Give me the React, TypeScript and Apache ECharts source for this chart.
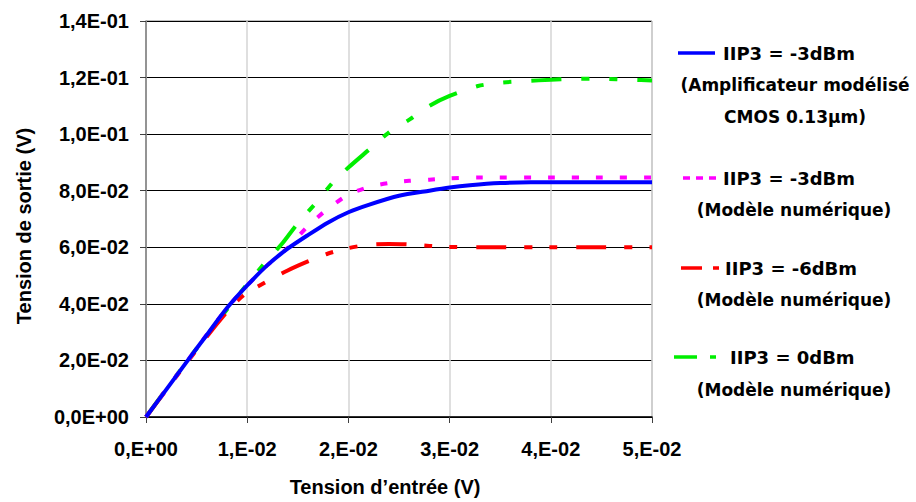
import React, { useEffect, useRef } from "react";
import * as echarts from "echarts";

const blueData: [number, number][] = [
  [0, 0], [0.002, 0.0097], [0.004, 0.0194], [0.006, 0.029], [0.008, 0.0385], [0.01, 0.0465],
  [0.012, 0.0537], [0.014, 0.0595], [0.016, 0.0643], [0.018, 0.0688], [0.02, 0.0724],
  [0.022, 0.075], [0.025, 0.0782], [0.028, 0.08], [0.03, 0.0811], [0.032, 0.0819],
  [0.035, 0.0827], [0.038, 0.083], [0.04, 0.083], [0.045, 0.083], [0.05, 0.083],
];

const magentaData: [number, number][] = [
  [0, 0], [0.004, 0.0194], [0.008, 0.0385], [0.01, 0.0465], [0.012, 0.0537], [0.014, 0.0598],
  [0.016, 0.0675], [0.018, 0.0737], [0.02, 0.0786], [0.022, 0.0813], [0.024, 0.0827],
  [0.026, 0.0835], [0.028, 0.0839], [0.03, 0.0844], [0.033, 0.0847], [0.04, 0.0847],
  [0.045, 0.0847], [0.05, 0.0847],
];

const redData: [number, number][] = [
  [0, 0], [0.002, 0.0096], [0.004, 0.019], [0.006, 0.0284], [0.008, 0.0372], [0.009, 0.041],
  [0.01, 0.044], [0.012, 0.048], [0.014, 0.0518], [0.016, 0.055], [0.018, 0.0578],
  [0.02, 0.0597], [0.022, 0.0609], [0.024, 0.0612], [0.026, 0.061], [0.028, 0.0605],
  [0.03, 0.0601], [0.035, 0.06], [0.04, 0.06], [0.045, 0.06], [0.05, 0.06],
];

const greenData: [number, number][] = [
  [0, 0], [0.004, 0.0195], [0.008, 0.038], [0.01, 0.047], [0.012, 0.0555], [0.0135, 0.0615],
  [0.015, 0.0685], [0.0167, 0.0753], [0.0186, 0.0835], [0.02, 0.0882], [0.0221, 0.0947],
  [0.0239, 0.1003], [0.0261, 0.1053], [0.028, 0.11], [0.03, 0.1135], [0.0328, 0.117],
  [0.035, 0.1182], [0.0376, 0.1188], [0.04, 0.1192], [0.042, 0.1195], [0.045, 0.1196],
  [0.048, 0.1192], [0.05, 0.119],
];

const legendMain = ["IIP3 = -3dBm", "IIP3 = -3dBm", "IIP3 = -6dBm", "IIP3 = 0dBm"];
const legendSub = ["(Amplificateur modélisé", "(Modèle numérique)", "(Modèle numérique)", "(Modèle numérique)"];
const legendSub2 = "CMOS 0.13µm)";

const yTitle = "Tension de sortie (V)";
const xTitle = "Tension d\u2019entrée (V)";

function sciY(v: number): string {
  if (Math.abs(v) < 1e-12) return "0,0E+00";
  const e = Math.floor(Math.log10(v) + 1e-9);
  const m = v / Math.pow(10, e);
  const s = m.toFixed(1).replace(".", ",");
  const es = (e < 0 ? "-" : "+") + String(Math.abs(e)).padStart(2, "0");
  return s + "E" + es;
}

function sciX(v: number): string {
  if (Math.abs(v) < 1e-12) return "0,E+00";
  const e = Math.floor(Math.log10(v) + 1e-9);
  const m = Math.round(v / Math.pow(10, e));
  const es = (e < 0 ? "-" : "+") + String(Math.abs(e)).padStart(2, "0");
  return m + ",E" + es;
}

export default function App() {
  const ref = useRef<HTMLDivElement>(null);
  useEffect(() => {
    if (!ref.current) return;
    const chart = echarts.init(ref.current, null, { renderer: "svg" });
    const axisFont = "Liberation Sans, Arial, sans-serif";
    const legFont = "DejaVu Sans, sans-serif";
    const legText = (x: number, y: number, text: string, align: string, size: number) => ({
      type: "text",
      x,
      y,
      style: {
        text,
        fill: "#000",
        font: `bold ${size}px ${legFont}`,
        textAlign: align,
        textVerticalAlign: "middle",
      },
    });
    const legLine = (x1: number, x2: number, y: number, color: string, dash: number[] | null) => ({
      type: "line",
      shape: { x1, y1: y, x2, y2: y },
      style: { stroke: color, lineWidth: 3.5, lineDash: dash || undefined },
    });
    const lineSeries = (name: string, data: [number, number][], color: string, type: any, z: number) => ({
      name,
      type: "line",
      data,
      showSymbol: false,
      smooth: 0.25,
      lineStyle: { color, width: 4, type, cap: "butt" },
      z,
    });
    chart.setOption({
      animation: false,
      backgroundColor: "#fff",
      grid: {
        left: 146,
        right: 264,
        top: 21,
        bottom: 85,
        show: true,
        borderColor: "#808080",
        borderWidth: 1,
      },
      xAxis: {
        type: "value",
        min: 0,
        max: 0.05,
        interval: 0.01,
        axisLine: { show: true, onZero: false, lineStyle: { color: "#000", width: 1.5 } },
        axisTick: { show: true, inside: false, length: 6, lineStyle: { color: "#404040" } },
        axisLabel: {
          formatter: (v: number) => sciX(v),
          color: "#000",
          fontSize: 20,
          fontWeight: "bold",
          fontFamily: axisFont,
          margin: 22,
        },
        splitLine: { show: true, lineStyle: { color: "#d4d4d4", width: 1.5 } },
      },
      yAxis: {
        type: "value",
        min: 0,
        max: 0.14,
        interval: 0.02,
        axisLine: { show: true, lineStyle: { color: "#808080", width: 1.5 } },
        axisTick: { show: true, inside: false, length: 6, lineStyle: { color: "#404040" } },
        axisLabel: {
          formatter: (v: number) => sciY(v),
          color: "#000",
          fontSize: 20,
          fontWeight: "bold",
          fontFamily: axisFont,
          margin: 17,
        },
        splitLine: { show: true, lineStyle: { color: "#000", width: 1.2 } },
      },
      series: [
        lineSeries("green", greenData, "#00ee00", [30, 20, 8, 20, 8, 20], 2),
        lineSeries("red", redData, "#ff0000", [30, 18, 8, 17, 8, 19], 3),
        lineSeries("magenta", magentaData, "#ff00ff", [7, 17], 4),
        lineSeries("blue", blueData, "#0000ff", "solid", 5),
      ],
      graphic: [
        {
          type: "text",
          x: 24,
          y: 226,
          rotation: Math.PI / 2,
          style: {
            text: yTitle,
            fill: "#000",
            font: `bold 20px ${axisFont}`,
            textAlign: "center",
            textVerticalAlign: "middle",
          },
        },
        {
          type: "text",
          x: 385,
          y: 487,
          style: {
            text: xTitle,
            fill: "#000",
            font: `bold 20px ${axisFont}`,
            textAlign: "center",
            textVerticalAlign: "middle",
          },
        },
        legLine(678, 715, 53, "#0000ff", null),
        legText(723, 53, legendMain[0], "left", 18),
        legText(795, 85, legendSub[0], "center", 17),
        legText(795, 117, legendSub2, "center", 17),
        legLine(683, 718, 178, "#ff00ff", [7, 6]),
        legText(723, 178, legendMain[1], "left", 18),
        legText(794, 210, legendSub[1], "center", 17),
        legLine(681, 719, 268, "#ff0000", [21, 11, 6, 20]),
        legText(725, 268, legendMain[2], "left", 18),
        legText(794, 300, legendSub[2], "center", 17),
        legLine(674, 716, 357, "#00ee00", [23, 13, 6, 20]),
        legText(730, 357, legendMain[3], "left", 18),
        legText(794, 390, legendSub[3], "center", 17),
      ],
    });
    return () => chart.dispose();
  }, []);
  return (
    <div
      ref={ref}
      style={{ position: "fixed", left: 0, top: 0, width: 916, height: 502 }}
    />
  );
}
